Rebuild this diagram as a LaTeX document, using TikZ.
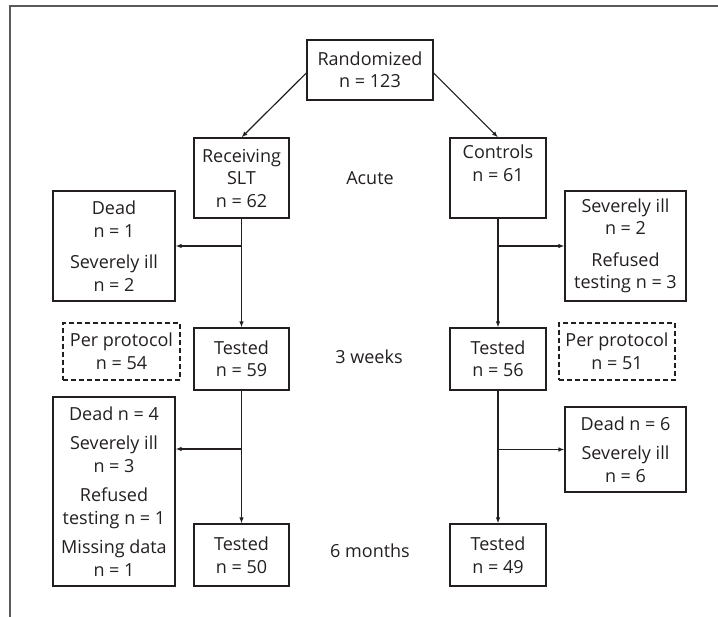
\documentclass[tikz,border=0pt]{standalone}
\usepackage{fontspec}
\setmainfont{Open Sans}
\usetikzlibrary{arrows.meta}
\definecolor{ink}{HTML}{231F20}
\definecolor{framec}{HTML}{5A5A5A}
\begin{document}
\begin{tikzpicture}[x=1pt,y=-1pt,
  box/.style={draw=ink, line width=1.2pt, align=center, inner sep=0pt, text=ink,
              font=\fontsize{18}{22.5}\selectfont},
  dbox/.style={box, dashed, dash pattern=on 5pt off 3pt},
  lbl/.style={text=ink, font=\fontsize{18}{22.5}\selectfont},
  arr/.style={draw=ink, line width=1.2pt, -{Latex[length=6pt,width=4.5pt]}},
  frm/.style={draw=framec, line width=2pt}]
\useasboundingbox (0,0) rectangle (718,617);
\draw[frm] (9.5,617) -- (9.5,6.5) -- (718,6.5);

\node[box, minimum width=126pt, minimum height=60pt] (rand) at (370,70) {Randomized\\n = 123};
\node[box, minimum width=95pt, minimum height=80pt] (slt) at (241.5,178) {Receiving\\SLT\\n = 62};
\node[box, minimum width=96pt, minimum height=80pt] (ctrl) at (498,178) {Controls\\n = 61\\\strut};
\node[box, minimum width=122pt, minimum height=110pt] (deadA) at (114,246) {Dead\\n = 1\\[9pt]Severely ill\\n = 2};
\node[box, minimum width=121pt, minimum height=110pt] (sevC) at (625.5,246) {Severely ill\\n = 2\\[9pt]Refused\\testing n = 3};
\node[dbox, minimum width=117pt, minimum height=57pt] (ppA) at (121.5,351.5) {Per protocol\\n = 54};
\node[box, minimum width=95pt, minimum height=62pt] (t59) at (241.5,359) {Tested\\n = 59};
\node[box, minimum width=96pt, minimum height=62pt] (t56) at (498,359) {Tested\\n = 56};
\node[dbox, minimum width=116pt, minimum height=57pt] (ppC) at (617,351.5) {Per protocol\\n = 51};
\node[box, minimum width=122pt, minimum height=189pt] (deadB) at (114,491.5) {Dead n = 4\\[7pt]Severely ill\\n = 3\\[7pt]Refused\\testing n = 1\\[7pt]Missing data\\n = 1};
\node[box, minimum width=121pt, minimum height=85pt] (deadC) at (625.5,449.5) {Dead n = 6\\[7pt]Severely ill\\n = 6};
\node[box, minimum width=95pt, minimum height=62pt] (t50) at (241.5,555) {Tested\\n = 50};
\node[box, minimum width=96pt, minimum height=62pt] (t49) at (498,555) {Tested\\n = 49};

\node[lbl] (acute) at (370,178) {Acute};
\node[lbl] (weeks) at (369,357) {3 weeks};
\node[lbl] (months) at (370,551) {6 months};

\draw[arr] ([yshift=-3pt]rand.west) -- (slt.north);
\draw[arr] ([yshift=-3pt]rand.east) -- (ctrl.north);
\draw[arr] (slt.south) -- (t59.north);
\draw[arr] (ctrl.south) -- (t56.north);
\draw[arr] (slt.south |- deadA.east) -- (deadA.east);
\draw[arr] (ctrl.south |- sevC.west) -- (sevC.west);
\draw[arr] (t59.south) -- (t50.north);
\draw[arr] (t56.south) -- (t49.north);
\coordinate (jB) at (241.5,449);
\draw[arr] (jB) -- (jB -| deadB.east);
\draw[arr] (t56.south |- deadC.west) -- (deadC.west);
\end{tikzpicture}
\end{document}
